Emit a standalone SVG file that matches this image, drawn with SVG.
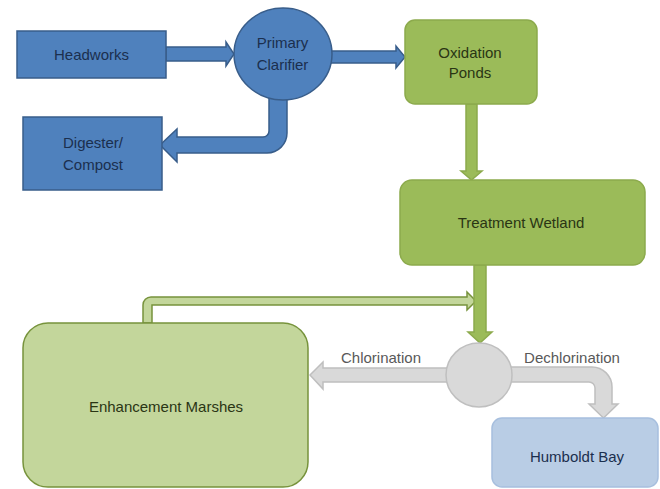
<svg xmlns="http://www.w3.org/2000/svg" width="660" height="489" viewBox="0 0 660 489">
<style>
text{font-family:"Liberation Sans",Arial,sans-serif;font-size:15px;text-anchor:middle}
.blue{fill:#4f81bd;stroke:#385d8a;stroke-width:1.5}
.green{fill:#9bbb59;stroke:#8caa4c;stroke-width:1.5}
.lgreen{fill:#c3d69b;stroke:#77933c;stroke-width:1.5}
.gray{fill:#d9d9d9;stroke:#bfbfbf;stroke-width:1.5}
.bay{fill:#b9cde5;stroke:#a7bfde;stroke-width:1.5}
.tb{fill:#1b2f4e}
.tg{fill:#2a3514}
.tl{fill:#595959}
</style>
<rect width="660" height="489" fill="#ffffff"/>
<g id="connectors">
<path class="blue" d="M166,47 H226 V42 L234,54 L226,66 V61 H166 Z"/>
<path class="blue" d="M330,51 H396 V46 L405,57 L396,68 V63 H330 Z"/>
<path class="blue" d="M269,96 V131 A6,6 0 0 1 263,137 H177 V129 L160,145 L177,162 V153 H267 A20,20 0 0 0 287,133 V96 Z"/>
<path class="green" d="M466,104 V171 H461 L471.5,180 L482,171 H477 V104 Z"/>
<path class="lgreen" d="M143,323 V305 A8,8 0 0 1 151,297 H467 V292 L476,301 L467,310 V305 H152 V323 Z"/>
<path class="green" d="M474,265 V332 H468 L480,343 L492,332 H486 V265 Z"/>
<path class="gray" d="M448,368 H323 V362 L310,375 L323,389 V382 H448 Z"/>
<path class="gray" d="M510,367 H592 A20,20 0 0 1 612,387 V404 H618 L603.5,418 L589,404 H595 V388 A6,6 0 0 0 589,382 H510 Z"/>
</g>
<g id="headworks">
<rect class="blue" x="17" y="31" width="149" height="47"/>
<text class="tb" x="91.5" y="60">Headworks</text>
</g>
<g id="digester">
<rect class="blue" x="23" y="117" width="139" height="73"/>
<text class="tb" x="93" y="148">Digester/</text>
<text class="tb" x="93" y="170">Compost</text>
</g>
<g id="clarifier">
<ellipse class="blue" cx="283" cy="54" rx="49" ry="46"/>
<text class="tb" x="282.5" y="48">Primary</text>
<text class="tb" x="282.5" y="70">Clarifier</text>
</g>
<g id="oxidation">
<rect class="green" x="405" y="20" width="132" height="84" rx="10"/>
<text class="tg" x="470" y="58">Oxidation</text>
<text class="tg" x="470" y="78">Ponds</text>
</g>
<g id="wetland">
<rect class="green" x="400" y="180" width="245" height="85" rx="12"/>
<text class="tg" x="521" y="228">Treatment Wetland</text>
</g>
<g id="split">
<ellipse class="gray" cx="479" cy="375" rx="33" ry="32"/>
</g>
<g id="marshes">
<rect class="lgreen" x="23" y="323" width="285" height="164" rx="25"/>
<text class="tg" x="166" y="412">Enhancement Marshes</text>
</g>
<g id="bay">
<rect class="bay" x="492" y="418" width="166" height="69" rx="10"/>
<text class="tb" x="577" y="462">Humboldt Bay</text>
</g>
<g id="labels">
<text class="tl" x="381" y="363">Chlorination</text>
<text class="tl" x="572" y="363">Dechlorination</text>
</g>
</svg>
